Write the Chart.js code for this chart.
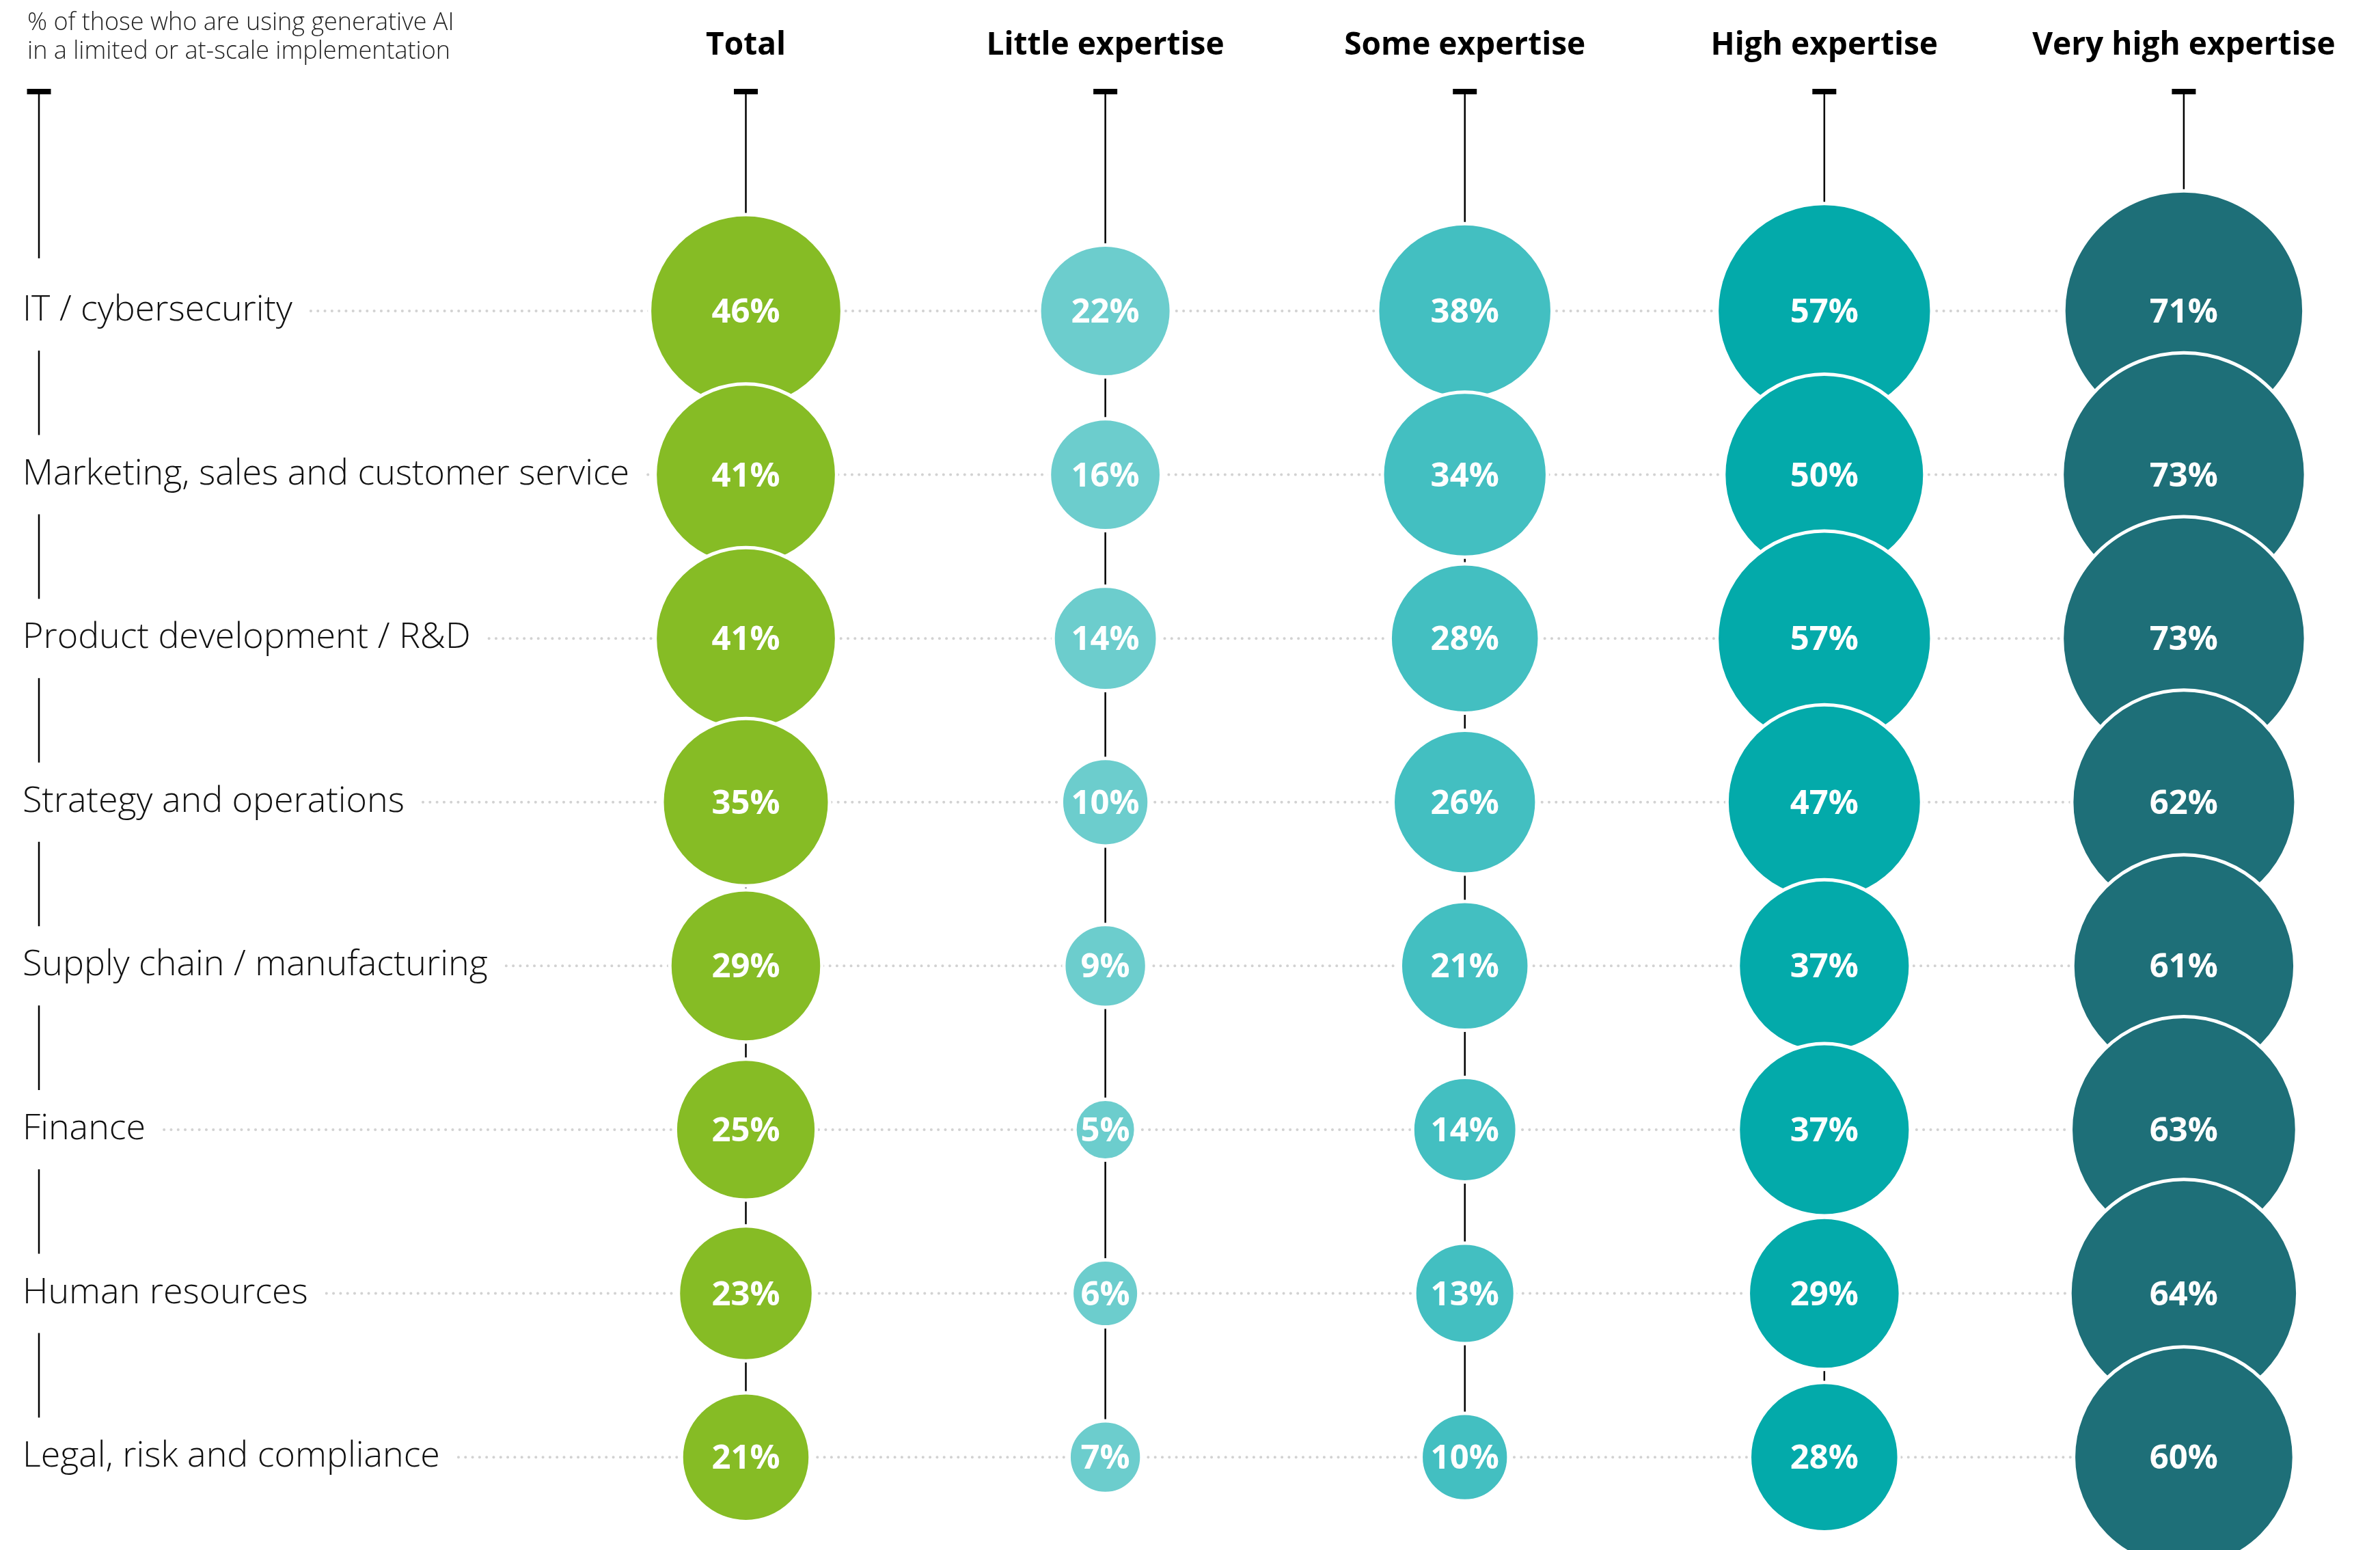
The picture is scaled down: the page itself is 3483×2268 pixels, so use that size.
<!DOCTYPE html>
<html lang="en">
<head>
<meta charset="UTF-8"/>
<title>Generative AI use by function and expertise</title>
<script src="https://cdn.jsdelivr.net/npm/chart.js@4.4.0/dist/chart.umd.min.js"></script>
<style>
  html, body { margin: 0; padding: 0; background: #fff; }
  canvas { display: block; }
</style>
</head>
<body>
<canvas id="chart" width="3483" height="2268"></canvas>

<script>
const note = ['% of those who are using generative AI', 'in a limited or at-scale implementation'];
const groups = ['Total', 'Little expertise', 'Some expertise', 'High expertise', 'Very high expertise'];
const functions = [
  'IT / cybersecurity',
  'Marketing, sales and customer service',
  'Product development / R&D',
  'Strategy and operations',
  'Supply chain / manufacturing',
  'Finance',
  'Human resources',
  'Legal, risk and compliance'
];
const total    = [46, 41, 41, 35, 29, 25, 23, 21];
const little   = [22, 16, 14, 10, 9, 5, 6, 7];
const some     = [38, 34, 28, 26, 21, 14, 13, 10];
const high     = [57, 50, 57, 47, 37, 37, 29, 28];
const veryHigh = [71, 73, 73, 62, 61, 63, 64, 60];

const series = [total, little, some, high, veryHigh];
const colours = ['#86bc25', '#6ccdcd', '#43bfc1', '#03aaaa', '#1e6f78'];

// bubble area grows with the share
function radiusOf(v) {
  return 21.2 * Math.sqrt(v) - 2.9;
}

const datasets = series.map((vals, i) => ({
  label: groups[i],
  data: vals.map((v, j) => ({ x: i, y: j, v: v })),
  backgroundColor: colours[i],
  borderColor: '#ffffff',
  borderWidth: 5,
  clip: false,
  radius: ctx => radiusOf(ctx.raw.v)
}));

const decor = {
  id: 'decor',
  beforeDatasetsDraw(chart) {
    const { ctx } = chart;
    const xs = chart.scales.x, ys = chart.scales.y;
    const rowY = j => ys.getPixelForValue(j);
    const colX = i => xs.getPixelForValue(i);
    ctx.save();

    // note top left
    ctx.fillStyle = '#222';
    ctx.font = '300 36px "Open Sans"';
    ctx.textAlign = 'left';
    ctx.textBaseline = 'alphabetic';
    ctx.fillText(note[0], 40, 44);
    ctx.fillText(note[1], 40, 86);

    // column headers
    ctx.fillStyle = '#000';
    ctx.font = 'bold 46px "Open Sans"';
    ctx.textAlign = 'center';
    groups.forEach((g, i) => ctx.fillText(g, colX(i), 80));

    // row labels + dotted guides
    ctx.font = '300 52px "Open Sans"';
    ctx.textAlign = 'left';
    const lastX = colX(groups.length - 1);
    functions.forEach((f, j) => {
      const y = rowY(j);
      ctx.fillStyle = '#111';
      ctx.fillText(f, 33, y + 14);
      const start = 33 + ctx.measureText(f).width + 27;
      ctx.beginPath();
      ctx.setLineDash([0.1, 10.2]);
      ctx.lineCap = 'round';
      ctx.lineWidth = 4;
      ctx.strokeStyle = '#d2d2d2';
      ctx.moveTo(start, y);
      ctx.lineTo(lastX, y);
      ctx.stroke();
    });
    ctx.setLineDash([]);
    ctx.lineCap = 'butt';

    // vertical stems with caps
    ctx.strokeStyle = '#000';
    ctx.fillStyle = '#000';
    ctx.lineWidth = 2.5;
    const lastRow = rowY(functions.length - 1);
    groups.forEach((g, i) => {
      const x = colX(i);
      ctx.fillRect(x - 17.5, 130, 35, 8);
      ctx.beginPath();
      ctx.moveTo(x, 134);
      ctx.lineTo(x, lastRow);
      ctx.stroke();
    });

    // left axis, broken around the labels
    const ax = 57;
    ctx.fillRect(ax - 17.5, 130, 35, 8);
    ctx.beginPath();
    ctx.moveTo(ax, 134);
    ctx.lineTo(ax, rowY(0) - 77);
    for (let j = 0; j < functions.length - 1; j++) {
      ctx.moveTo(ax, rowY(j) + 58);
      ctx.lineTo(ax, rowY(j + 1) - 58);
    }
    ctx.stroke();
    ctx.restore();
  },
  afterDatasetsDraw(chart) {
    const { ctx } = chart;
    ctx.save();
    ctx.fillStyle = '#fff';
    ctx.font = 'bold 49px "Open Sans"';
    ctx.textAlign = 'center';
    ctx.textBaseline = 'middle';
    chart.data.datasets.forEach((ds, i) => {
      chart.getDatasetMeta(i).data.forEach((el, j) => {
        ctx.fillText(ds.data[j].v + '%', el.x, el.y + 3);
      });
    });
    ctx.restore();
  }
};

new Chart(document.getElementById('chart').getContext('2d'), {
  type: 'bubble',
  data: { datasets: datasets },
  options: {
    responsive: false,
    animation: false,
    events: [],
    layout: { padding: 0, autoPadding: false },
    plugins: { legend: { display: false }, tooltip: { enabled: false } },
    scales: {
      x: { type: 'linear', display: false, min: -2.0747, max: 4.5457 },
      y: { type: 'linear', display: false, reverse: true, min: -1.899, max: 7.567 }
    }
  },
  plugins: [decor]
});
</script>
</body>
</html>
